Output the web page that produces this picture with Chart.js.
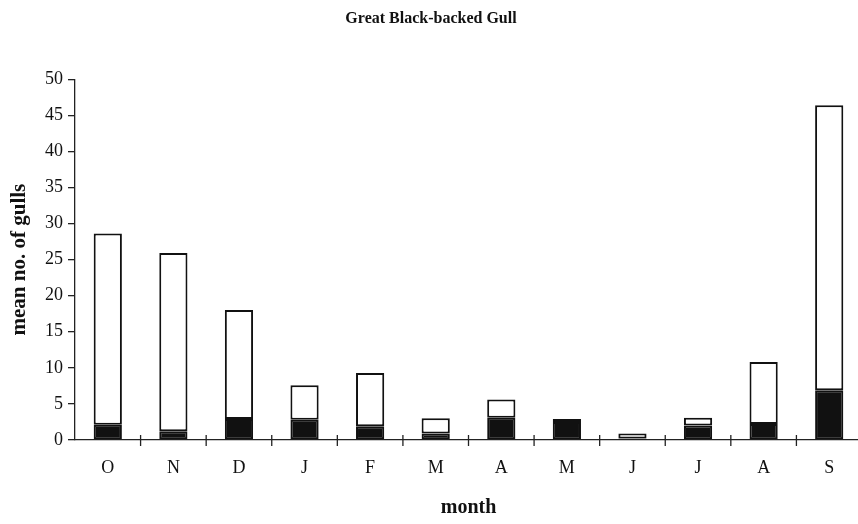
<!DOCTYPE html>
<html>
<head>
<meta charset="utf-8">
<script src="https://cdn.jsdelivr.net/npm/chart.js@4/dist/chart.umd.min.js"></script>
<style>
  html, body { margin: 0; padding: 0; background: #fff; overflow: hidden; }
  #wrap { width: 862px; height: 524px; position: relative; }
</style>
</head>
<body>
<div id="wrap"><canvas id="canvas"></canvas></div>
<script>
//****DATA****//

var months = ['O', 'N', 'D', 'J', 'F', 'M', 'A', 'M', 'J', 'J', 'A', 'S'];
var blackPart = [2.1, 1.2, 2.9, 2.8, 1.9, 0.9, 3.1, 2.5, 0.2, 2.0, 2.2, 6.9];
var whitePart = [26.5, 24.7, 15.1, 4.8, 7.4, 2.1, 2.5, 0.4, 0.7, 1.1, 8.6, 39.5];
var yTicks = [0, 5, 10, 15, 20, 25, 30, 35, 40, 45, 50];

//****HELPERS****//

var serif = 'Liberation Serif, Times New Roman, serif';

// small tick marks between months, crossing the baseline
var monthTicks = {
  id: 'monthTicks',
  afterDraw: function(chart) {
    var ctx = chart.ctx;
    var xs = chart.scales.x;
    var base = chart.scales.y.getPixelForValue(0);
    ctx.save();
    ctx.strokeStyle = '#222';
    ctx.lineWidth = 1.3;
    for (var i = 1; i < months.length; i++) {
      var x = (xs.getPixelForValue(i - 1) + xs.getPixelForValue(i)) / 2;
      ctx.beginPath();
      ctx.moveTo(x, base - 5);
      ctx.lineTo(x, base + 6);
      ctx.stroke();
    }
    ctx.restore();
  }
};

//****CHART****//

var ctx = document.getElementById('canvas').getContext('2d');

var chart = new Chart(ctx, {
  type: 'bar',
  data: {
    labels: months,
    datasets: [
      {
        label: 'black',
        data: blackPart,
        backgroundColor: '#111',
        borderColor: '#111',
        borderWidth: 2,
        borderSkipped: false
      },
      {
        label: 'white',
        data: whitePart,
        backgroundColor: '#fff',
        borderColor: '#111',
        borderWidth: 2,
        borderSkipped: false
      }
    ]
  },
  options: {
    responsive: true,
    maintainAspectRatio: false,
    animation: false,
    datasets: { bar: { barPercentage: 0.43, categoryPercentage: 1 } },
    layout: { padding: 0 },
    plugins: {
      legend: { display: false },
      tooltip: { enabled: false },
      title: {
        display: true,
        text: 'Great Black-backed Gull',
        color: '#111',
        font: { family: serif, size: 16, weight: 'bold' },
        padding: { top: 9, bottom: 51 }
      }
    },
    scales: {
      x: {
        stacked: true,
        afterFit: function(scale) { scale.height = 84; },
        grid: { display: true, drawOnChartArea: false, drawTicks: false },
        border: { display: true, color: '#222', width: 1.3 },
        ticks: { color: '#111', padding: 17, font: { family: serif, size: 18 } },
        title: {
          display: true,
          text: 'month',
          color: '#111',
          font: { family: serif, size: 20, weight: 'bold' },
          padding: { top: 0, bottom: 4 }
        }
      },
      y: {
        stacked: true,
        min: 0,
        max: 50,
        afterFit: function(scale) { scale.width = 75; },
        afterBuildTicks: function(scale) {
          scale.ticks = yTicks.map(function(v) { return { value: v }; });
        },
        grid: { display: true, drawOnChartArea: false, tickLength: 7, color: '#222', lineWidth: 1.3 },
        border: { display: true, color: '#222', width: 1.3 },
        ticks: { color: '#111', padding: 5, font: { family: serif, size: 18 } },
        title: {
          display: true,
          text: 'mean no. of gulls',
          color: '#111',
          font: { family: serif, size: 21, weight: 'bold' },
          padding: { top: 7, bottom: 0 }
        }
      }
    }
  },
  plugins: [monthTicks]
});
</script>
</body>
</html>
